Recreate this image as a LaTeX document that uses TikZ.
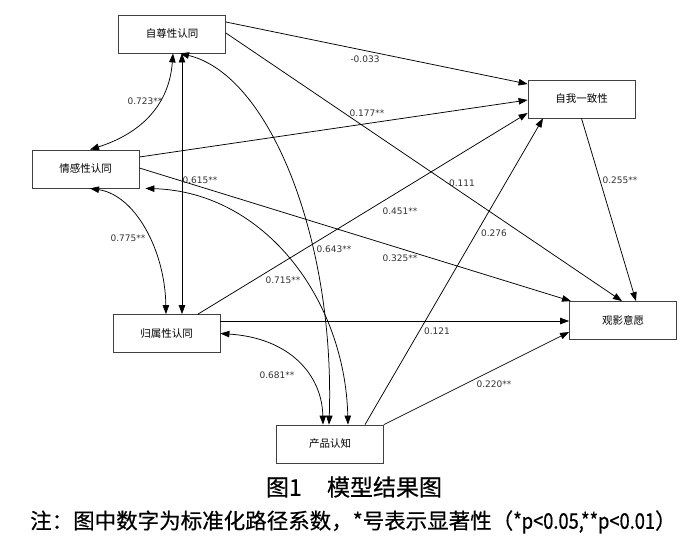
\documentclass[tikz,border=0pt]{standalone}
\usepackage{fontspec}
\setmainfont{DejaVu Sans}
\newfontfamily\cjk{Noto Sans CJK SC}
\newfontfamily\cjkh[FakeBold=0.5]{Noto Sans CJK SC}
\newfontfamily\lab{DejaVu Sans}
\usetikzlibrary{arrows.meta,calc}
\begin{document}
\begin{tikzpicture}[x=1pt,y=-1pt,
  box/.style={draw=black!75, line width=0.8pt, minimum width=107pt, minimum height=38pt, inner sep=0pt, font=\cjk\fontsize{10.5}{12}\selectfont},
  lbl/.style={font=\lab\fontsize{9}{10}\selectfont, text=black!80, inner sep=0pt},
  conn/.style={line width=0.75pt, -{Triangle[length=9pt,width=6.5pt]}},
  both/.style={line width=0.75pt, {Triangle[length=9pt,width=6.5pt]}-{Triangle[length=9pt,width=6.5pt]}},
]
\useasboundingbox[fill=white] (0,0) rectangle (700,543);
\node[box] (zz) at (172,34) {自尊性认同};
\node[box] (qg) at (85.5,169) {情感性认同};
\node[box] (zw) at (581.5,99) {自我一致性};
\node[box] (gs) at (166.5,333.5) {归属性认同};
\node[box] (gy) at (623,320.5) {观影意愿};
\node[box] (cp) at (330,444) {产品认知};

\draw[conn] ([yshift=12pt]zz.east) -- ([yshift=15pt]zw.west);
\draw[conn] ([yshift=1pt]zz.east) -- ([xshift=-1pt]gy.north);
\draw[conn] ([yshift=12pt]qg.east) -- ([yshift=-1pt]zw.west);
\draw[conn] ([yshift=1pt]qg.east) -- ([xshift=-52pt]gy.north);
\draw[conn] ([xshift=31.5pt]gs.north) -- ([yshift=-14pt]zw.west);
\draw[conn] ([yshift=12.5pt]gs.east) -- ([yshift=12.5pt]gs.east -| gy.west);
\draw[conn] ([xshift=35pt]cp.north) -- ([xshift=-38.5pt]zw.south);
\draw[conn] (cp.north east) -- ([yshift=-11.5pt]gy.west);
\draw[conn] (zw.south) -- ([xshift=13pt]gy.north);

\draw[both] ([xshift=1pt]zz.south) .. controls (168,120) and (120,140) .. ([xshift=4.5pt]qg.north);
\draw[both] ([xshift=10pt]zz.south) -- ([xshift=15.5pt]gs.north);
\draw[both] ([xshift=4.5pt]qg.south) .. controls (135,195) and (165,250) .. ([xshift=-0.5pt]gs.north);
\draw[both] (gs.east) .. controls (290,338) and (322,375) .. ([xshift=-7pt]cp.north);
\draw[both] ([xshift=8pt]zz.south) .. controls (270,75) and (335,240) .. ([xshift=-1pt]cp.north);
\draw[both] ([xshift=6pt]qg.south east) .. controls (265,192) and (345,300) .. ([xshift=18pt]cp.north);

\node[lbl] (l1) at (365,59) {-0.033};
\node[lbl] (l2) at (462,183) {0.111};
\node[lbl] (l3) at (367,113) {0.177**};
\node[lbl] (l4) at (400,258) {0.325**};
\node[lbl] (l5) at (400,211) {0.451**};
\node[lbl] (l6) at (437,331) {0.121};
\node[lbl] (l7) at (494,233) {0.276};
\node[lbl] (l8) at (494,384) {0.220**};
\node[lbl] (l9) at (620,180) {0.255**};
\node[lbl] (l10) at (145,101) {0.723**};
\node[lbl] (l11) at (200,180) {0.615**};
\node[lbl] (l12) at (128,238) {0.775**};
\node[lbl] (l13) at (277,375) {0.681**};
\node[lbl] (l14) at (334,249) {0.643**};
\node[lbl] (l15) at (283,280) {0.715**};

\node[font=\cjkh\fontsize{23}{26}\selectfont, inner sep=0pt] (cap) at (354,487) {图1\hspace{1.1em}模型结果图};
\node[anchor=west, font=\cjkh\fontsize{21.5}{24}\selectfont, inner sep=0pt] (note) at (30,522) {注：图中数字为标准化路径系数，*号表示显著性（\scalebox{0.85}[1]{*p<0.05,**p<0.01}）};
\end{tikzpicture}
\end{document}
